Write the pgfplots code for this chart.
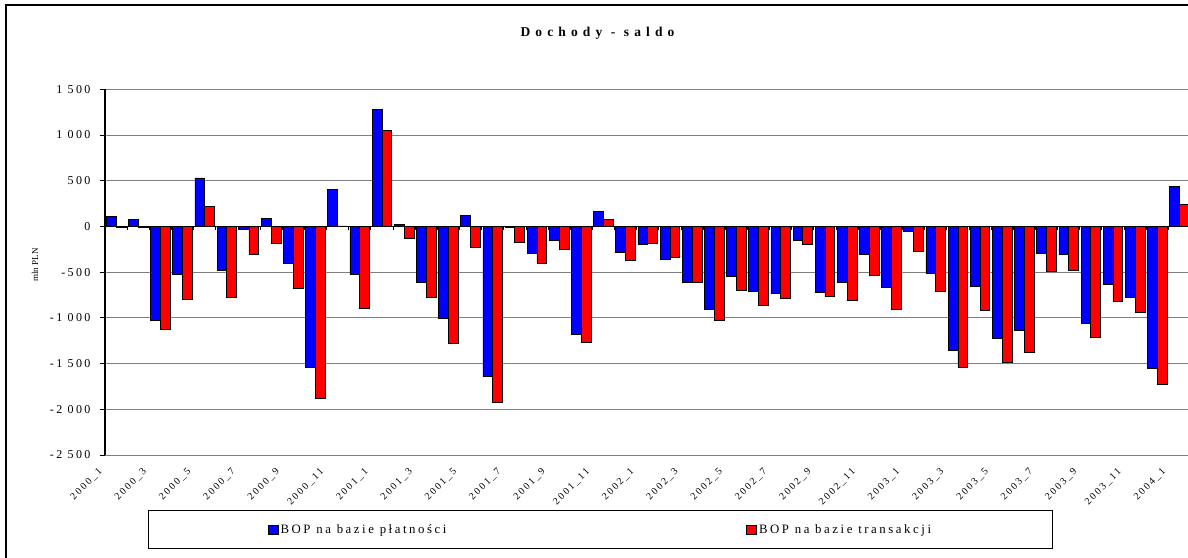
\documentclass[border=0pt]{standalone}
\usepackage{fontspec}
\setmainfont{Liberation Serif}[LetterSpace=20]
\usepackage{pgfplots}
\usepackage{pgfplotstable}
\pgfplotsset{compat=1.18}

\definecolor{bopblue}{RGB}{0,0,255}
\definecolor{bopred}{RGB}{255,0,0}
\definecolor{gridgray}{RGB}{128,128,128}

% idx: 1 = 2000_1 ... 49 = 2004_1
\pgfplotstableread{
idx bp bt
1 110 -10
2 75 -15
3 -1025 -1130
4 -525 -800
5 530 215
6 -480 -780
7 -30 -310
8 85 -182
9 -400 -680
10 -1540 -1878
11 405 5
12 -525 -897
13 1276 1047
14 18 -128
15 -616 -780
16 -1007 -1276
17 117 -226
18 -1645 -1922
19 -10 -171
20 -292 -408
21 -150 -248
22 -1182 -1265
23 164 73
24 -288 -372
25 -193 -182
26 -361 -335
27 -609 -616
28 -904 -1025
29 -543 -697
30 -711 -864
31 -729 -791
32 -150 -193
33 -718 -770
34 -609 -810
35 -306 -532
36 -664 -904
37 -58 -277
38 -511 -708
39 -1357 -1546
40 -653 -915
41 -1229 -1492
42 -1138 -1382
43 -299 -492
44 -306 -478
45 -1061 -1211
46 -635 -821
47 -773 -945
48 -1557 -1732
49 434 237
}\dochody

\begin{document}
\begin{tikzpicture}[x=1pt,y=1pt]
\path[use as bounding box, clip] (0,0) rectangle (1188,557);
\draw[line width=1.4pt] (6,-20) -- (6,552) -- (1220,552);

\node[font={\bfseries\fontsize{13.5}{15}\selectfont\addfontfeature{LetterSpace=38}}] at (597.5,524) {Dochody - saldo};
\node[rotate=90, font={\fontsize{9}{11}\selectfont\addfontfeature{LetterSpace=0}}] at (35,292) {mln PLN};

\begin{axis}[
    at={(105pt,102pt)}, anchor=south west,
    scale only axis,
    width=1085.5pt, height=365.7pt,
    xmin=0.5, xmax=49.5,
    ymin=-2500, ymax=1500,
    ybar=0pt, bar width=9.8pt,
    axis x line*=bottom, axis y line*=left,
    x axis line style={draw=gridgray, line width=1pt},
    y axis line style={draw=black, line width=1.2pt},
    ytick={-2500,-2000,...,1500},
    ymajorgrids,
    major grid style={draw=gridgray, line width=1pt},
    ytick align=outside,
    major tick length=5pt,
    y tick style={black, line width=1pt},
    x tick style={draw=none},
    yticklabel style={font=\fontsize{12}{13}\selectfont, xshift=-6pt},
    xtick={1,3,...,49},
    xticklabels={2000\_1,2000\_3,2000\_5,2000\_7,2000\_9,2000\_11,
                 2001\_1,2001\_3,2001\_5,2001\_7,2001\_9,2001\_11,
                 2002\_1,2002\_3,2002\_5,2002\_7,2002\_9,2002\_11,
                 2003\_1,2003\_3,2003\_5,2003\_7,2003\_9,2003\_11,
                 2004\_1},
    xticklabel style={font=\fontsize{10}{12}\selectfont, xshift=-13pt, yshift=-8pt, rotate=45, anchor=east},
    legend columns=2,
    legend style={at={(0.4565,-0.2037)}, anchor=center, draw=black, line width=1pt,
        fill=white, inner xsep=119pt, inner ysep=12pt,
        font=\fontsize{12.8}{14}\selectfont,
        /tikz/column 2/.style={column sep=298pt}},
    legend image code/.code={\draw[#1, draw=black, line width=0.6pt] (0pt,-4.5pt) rectangle (10pt,4.5pt);},
    /pgf/number format/1000 sep={\ },
    /pgf/number format/assume math mode=true,
]
\addplot[fill=bopblue, draw=black, line width=0.7pt] table[x=idx, y=bp] {\dochody};
\addlegendentry{BOP na bazie płatności}
\addplot[fill=bopred, draw=black, line width=0.7pt] table[x=idx, y=bt] {\dochody};
\addlegendentry{BOP na bazie transakcji}
\end{axis}

% zero line with small category ticks
\begin{axis}[
    at={(105pt,102pt)}, anchor=south west,
    scale only axis,
    width=1085.5pt, height=365.7pt,
    xmin=0.5, xmax=49.5,
    ymin=-2500, ymax=1500,
    axis x line=middle, axis y line=none,
    axis line style={-, draw=black, line width=1pt},
    xtick={0.5,1.5,...,49.5}, xticklabels={},
    xtick align=outside, major tick length=3.5pt,
    x tick style={black, line width=0.8pt},
    ytick=\empty,
]
\end{axis}
\end{tikzpicture}
\end{document}
